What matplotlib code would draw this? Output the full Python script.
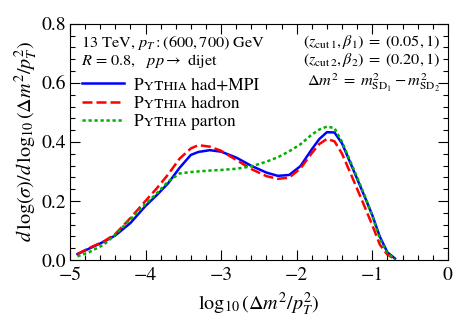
import numpy as np
import matplotlib
matplotlib.use('Agg')
import matplotlib.pyplot as plt
from matplotlib.ticker import MultipleLocator

plt.rcParams['font.family'] = ['STIXGeneral', 'DejaVu Serif']
plt.rcParams['mathtext.fontset'] = 'stix'

# log10(dm^2/pT^2) grid and the three curves
x = [-4.9, -4.75, -4.55, -4.4, -4.2, -4.0, -3.85, -3.7, -3.55, -3.4, -3.3, -3.15,
     -3.0, -2.8, -2.6, -2.4, -2.25, -2.1, -1.95, -1.8, -1.7, -1.6, -1.5, -1.4,
     -1.25, -1.1, -1.0, -0.9, -0.8, -0.7]
had_mpi = [0.02, 0.038, 0.062, 0.083, 0.125, 0.183, 0.22, 0.26, 0.312, 0.356, 0.366, 0.372,
           0.367, 0.347, 0.319, 0.296, 0.285, 0.288, 0.318, 0.375, 0.41, 0.433, 0.432, 0.395,
           0.305, 0.214, 0.152, 0.079, 0.026, 0.005]
hadron = [0.02, 0.04, 0.063, 0.088, 0.142, 0.2, 0.243, 0.29, 0.343, 0.378, 0.389, 0.384,
          0.37, 0.339, 0.308, 0.284, 0.275, 0.279, 0.31, 0.362, 0.393, 0.41, 0.402, 0.36,
          0.271, 0.18, 0.118, 0.052, 0.018, 0.003]
parton = [0.012, 0.026, 0.052, 0.086, 0.138, 0.19, 0.226, 0.266, 0.293, 0.298, 0.300, 0.303,
          0.305, 0.309, 0.317, 0.333, 0.348, 0.368, 0.392, 0.425, 0.442, 0.452, 0.447, 0.40,
          0.31, 0.218, 0.15, 0.072, 0.022, 0.004]

sc = 'P\u028f\u1d1b\u029c\u026a\u1d00'

fig = plt.figure(figsize=(4.57, 3.27), dpi=100)
ax = fig.add_axes([0.153, 0.205, 0.827, 0.722])

ax.plot(x, had_mpi, color='#0000ff', lw=1.8, ls='-', label=sc + ' had+MPI')
ax.plot(x, hadron, color='#ff0000', lw=1.8, ls=(0, (4, 1.6)), label=sc + ' hadron')
ax.plot(x, parton, color='#00b000', lw=1.8, ls=(0, (1.3, 1.1)), label=sc + ' parton')

ax.set_xlim(-5, 0)
ax.set_ylim(0, 0.8)
ax.xaxis.set_major_locator(MultipleLocator(1))
ax.xaxis.set_minor_locator(MultipleLocator(0.2))
ax.yaxis.set_major_locator(MultipleLocator(0.2))
ax.yaxis.set_minor_locator(MultipleLocator(0.04))
ax.xaxis.set_major_formatter(matplotlib.ticker.FuncFormatter(
    lambda v, p: '0' if abs(v) < 1e-9 else '\u2212%d' % abs(round(v))))
ax.yaxis.set_major_formatter(matplotlib.ticker.FormatStrFormatter('%.1f'))
ax.tick_params(which='both', direction='in', top=True, right=True, labelsize=14)
ax.tick_params(which='major', length=7, width=0.8)
ax.tick_params(which='minor', length=3.5, width=0.8)
ax.tick_params(axis='x', pad=5)
ax.tick_params(axis='y', pad=3)

ax.set_xlabel(r'$\log_{10}(\Delta m^2/p_T^2)$', fontsize=14.5, labelpad=5)
ax.set_ylabel(r'$d\,\log(\sigma)/d\,\log_{10}(\Delta m^2/p_T^2)$', fontsize=14.5, labelpad=1)

fs = 11.7
ax.text(0.03, 0.904, r'13 TeV, $p_T:(600,700)$ GeV', transform=ax.transAxes,
        fontsize=fs, va='baseline', ha='left')
ax.text(0.03, 0.826, r'$R$ = 0.8,   $pp\rightarrow$ dijet', transform=ax.transAxes,
        fontsize=fs, va='baseline', ha='left')
ax.text(0.98, 0.908, r'$(z_{\rm cut\,1},\beta_1)\;=\;(0.05,1)$', transform=ax.transAxes,
        fontsize=fs, va='baseline', ha='right')
ax.text(0.98, 0.828, r'$(z_{\rm cut\,2},\beta_2)\;=\;(0.20,1)$', transform=ax.transAxes,
        fontsize=fs, va='baseline', ha='right')
ax.text(0.98, 0.735, r'$\Delta m^2 \;=\; m^2_{\rm SD_1}-m^2_{\rm SD_2}$', transform=ax.transAxes,
        fontsize=fs, va='baseline', ha='right')

ax.legend(loc='upper left', bbox_to_anchor=(0.0, 0.825), frameon=False, fontsize=12.5,
          handlelength=2.4, handletextpad=0.6, labelspacing=0.12, borderaxespad=0.3)

fig.savefig('out.png', dpi=100)
